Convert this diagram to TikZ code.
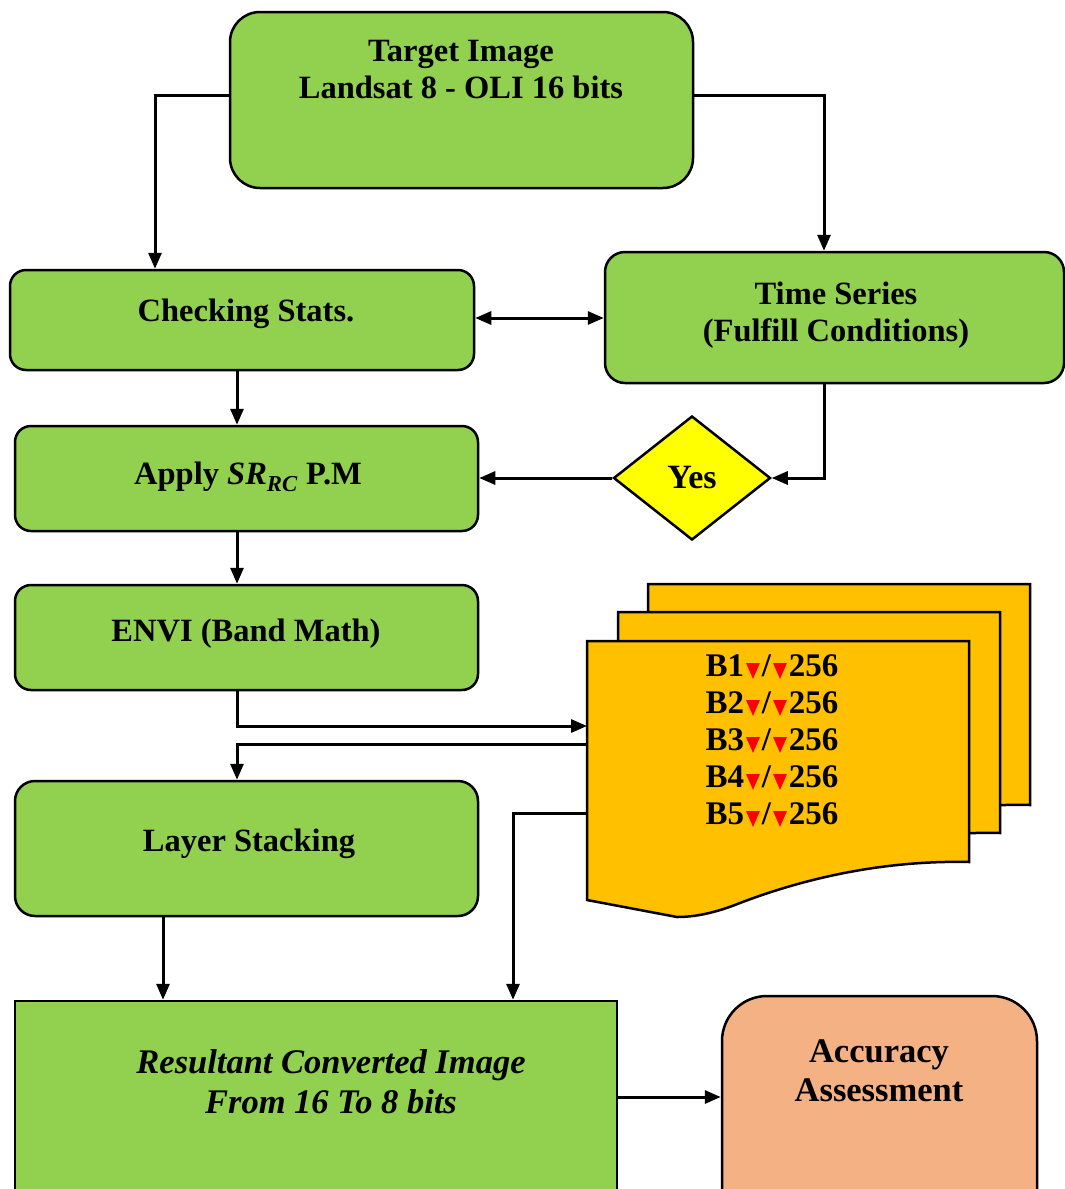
\documentclass[tikz,border=0pt]{standalone}
\usepackage{fontspec}
\setmainfont{Liberation Serif}
\usetikzlibrary{arrows.meta,shapes.geometric,calc}
\definecolor{gfill}{HTML}{92D050}
\definecolor{yfill}{HTML}{FFFF00}
\definecolor{ofill}{HTML}{FFC000}
\definecolor{sfill}{HTML}{F4B183}
\newcommand\rtri{\kern2pt\tikz[baseline=0pt,x=1em,y=1em]\fill[red] (0,0.42)--(0.42,0.42)--(0.21,-0.06)--cycle;\kern2pt}
\tikzset{
  gbox/.style={draw, line width=2.5pt, fill=gfill, inner sep=0pt},
  txt/.style={font=\fontsize{32.5}{37}\selectfont\bfseries, align=center, inner sep=0pt},
  arr/.style={line width=3pt, -{Triangle[length=16pt,width=13pt]}},
  arrtwo/.style={line width=3pt, {Triangle[length=16pt,width=13pt]}-{Triangle[length=16pt,width=13pt]}},
  docpage/.style={draw, line width=2.5pt, fill=ofill, line join=miter}
}
\newcommand\docshape[2]{%
  \path[docpage, shift={(#1,#2)}] (587,641) -- (969,641) -- (969,862)
    .. controls (880,860) and (800,880) .. (740,903)
    .. controls (715,913) and (695,917) .. (677,917)
    -- (587,900) -- cycle;}
\begin{document}
\begin{tikzpicture}[x=1pt,y=-1pt]
\useasboundingbox (0,0) rectangle (1065,1189);
\coordinate (xl) at (237,0);
\coordinate (xr) at (824,0);
\coordinate (xm) at (513,0);
\coordinate (xk) at (163,0);
\coordinate (yacc) at (0,1097);
% boxes
\node[gbox, rounded corners=30pt, minimum width=463pt, minimum height=176pt] (target) at (461.5,100) {};
\node[gbox, rounded corners=16pt, minimum width=464pt, minimum height=100pt] (check) at (242,320) {};
\node[gbox, rounded corners=20pt, minimum width=459pt, minimum height=131pt] (ts) at (834.5,317.5) {};
\node[gbox, rounded corners=16pt, minimum width=463pt, minimum height=105pt] (apply) at (246.5,478.5) {};
\node[gbox, rounded corners=16pt, minimum width=463pt, minimum height=105pt] (envi) at (246.5,637.5) {};
\node[gbox, rounded corners=20pt, minimum width=463pt, minimum height=135pt] (layer) at (246.5,848.5) {};
\node[gbox, minimum width=602pt, minimum height=259pt] (res) at (316,1130.5) {};
\node[draw, line width=2.5pt, fill=sfill, inner sep=0pt, rounded corners=45pt, minimum width=315pt, minimum height=254pt] (acc) at (879.5,1123) {};
\node[draw, line width=2.5pt, fill=yfill, diamond, inner sep=0pt, minimum width=157pt, minimum height=124pt] (yes) at (692,478) {};
% documents
\docshape{61}{-57}
\docshape{31}{-29}
\docshape{0}{0}
\coordinate (d1) at (587,726);
\coordinate (d2) at (587,744);
\coordinate (d3) at (587,813);
% texts
\node[txt] (ttarget) at (461,70) {Target Image\\Landsat 8 - OLI 16 bits};
\node[txt] (tcheck) at (246,314) {Checking Stats.};
\node[txt] (tts) at (836,315) {Time Series\\(Fulfill Conditions)};
\node[txt] (tapply) at (248,477) {Apply \textit{SR}\textsubscript{\textit{RC}} P.M};
\node[txt, font=\fontsize{34}{37}\selectfont\bfseries] (tyes) at (692,478) {Yes};
\node[txt] (tenvi) at (246,634) {ENVI (Band Math)};
\node[txt] (tlayer) at (249,844) {Layer Stacking};
\node[txt, font=\fontsize{34.5}{40}\selectfont\bfseries\itshape] (tres) at (331,1082) {Resultant Converted Image\\From 16 To 8 bits};
\node[txt, font=\fontsize{34.5}{39}\selectfont\bfseries] (tacc) at (879,1071) {Accuracy\\Assessment};
\node[txt, align=left, font=\fontsize{33}{37}\selectfont\bfseries] (tdoc) at (772,741) {B1\rtri/\rtri256\\B2\rtri/\rtri256\\B3\rtri/\rtri256\\B4\rtri/\rtri256\\B5\rtri/\rtri256};
% connectors
\draw[arr] ($(target.west)+(0,-5)$) -| ($(check.north)+(-87,0)$);
\draw[arr] ($(target.east)+(0,-5)$) -| (ts.north -| xr);
\draw[arrtwo] ($(check.east)+(0,-2)$) -- ($(check.east -| ts.west)+(0,-2)$);
\draw[arr] (check.south -| xl) -- (apply.north -| xl);
\draw[arr] (ts.south -| xr) |- (yes.east);
\draw[arr] (yes.west) -- (yes.west -| apply.east);
\draw[arr] (apply.south -| xl) -- (envi.north -| xl);
\draw[arr] (envi.south -| xl) |- (d1);
\draw[arr] (d2) -| (layer.north -| xl);
\draw[arr] (d3) -| (res.north -| xm);
\draw[arr] (layer.south -| xk) -- (res.north -| xk);
\draw[arr] (res.east |- yacc) -- (acc.west |- yacc);
\end{tikzpicture}
\end{document}
